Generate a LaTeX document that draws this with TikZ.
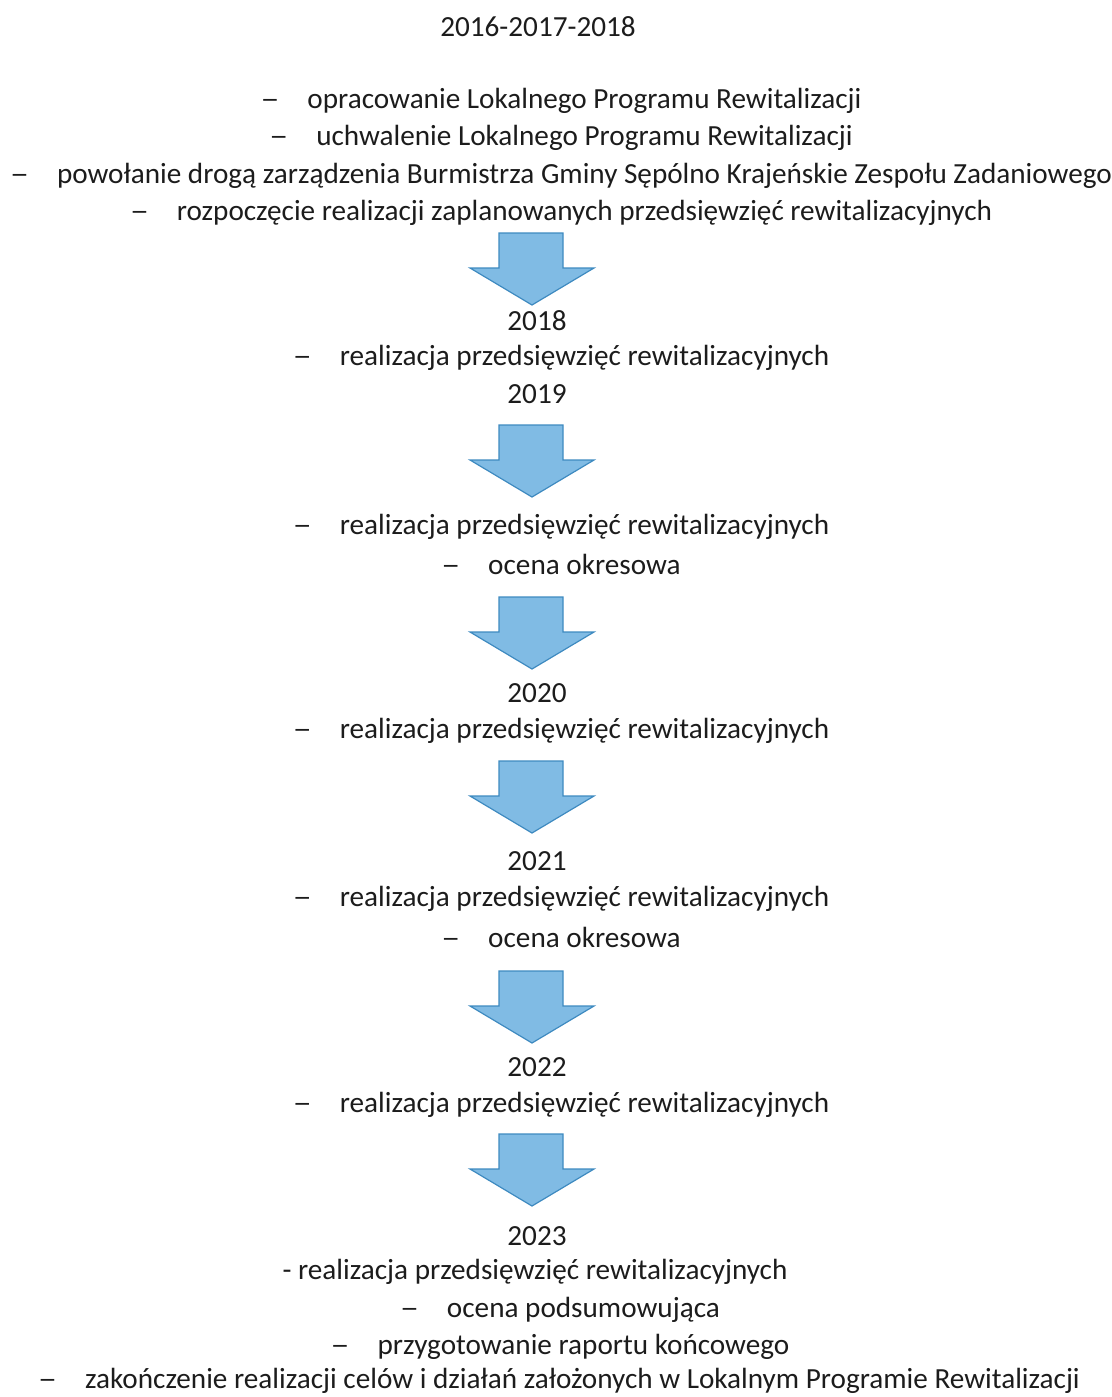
\documentclass[tikz,border=0pt]{standalone}
\usepackage{fontspec}
\setmainfont{Carlito}
\usepackage{tikz}
\definecolor{arrowfill}{RGB}{128,187,228}
\definecolor{arrowline}{RGB}{62,138,192}
\definecolor{textgray}{RGB}{28,28,28}
\newcommand{\dashline}[1]{\scalebox{1.3}[1]{–}\hspace{14pt}#1}
\tikzstyle{item} = [inner sep=0pt, text=textgray, font=\fontsize{14.6}{17}\selectfont, anchor=center]
\tikzstyle{year} = [inner sep=0pt, text=textgray, font=\fontsize{14.6}{17}\selectfont, anchor=center]
\tikzstyle{blockarrow} = [fill=arrowfill, draw=arrowline, line width=0.6pt, line join=miter]

\begin{document}
\begin{tikzpicture} [x=0.5pt, y=-0.5pt]
        \useasboundingbox (0,0) rectangle (1112,1397);
        \node (head) [year] at (538,27) {2016-2017-2018};
        \node (p1) [item] at (561,101) {\dashline{opracowanie Lokalnego Programu Rewitalizacji}};
        \node (p2) [item] at (561,138) {\dashline{uchwalenie Lokalnego Programu Rewitalizacji}};
        \node (p3) [item] at (561,176) {\dashline{powołanie drogą zarządzenia Burmistrza Gminy Sępólno Krajeńskie Zespołu Zadaniowego}};
        \node (p4) [item] at (561,213) {\dashline{rozpoczęcie realizacji zaplanowanych przedsięwzięć rewitalizacyjnych}};
        \node (y18) [year] at (537,321) {2018};
        \node (r18) [item] at (561,358) {\dashline{realizacja przedsięwzięć rewitalizacyjnych}};
        \node (y19) [year] at (537,394) {2019};
        \node (r19) [item] at (561,527) {\dashline{realizacja przedsięwzięć rewitalizacyjnych}};
        \node (o19) [item] at (561,564) {\dashline{ocena okresowa}};
        \node (y20) [year] at (537,693) {2020};
        \node (r20) [item] at (561,731) {\dashline{realizacja przedsięwzięć rewitalizacyjnych}};
        \node (y21) [year] at (537,861) {2021};
        \node (r21) [item] at (561,899) {\dashline{realizacja przedsięwzięć rewitalizacyjnych}};
        \node (o21) [item] at (561,937) {\dashline{ocena okresowa}};
        \node (y22) [year] at (537,1067) {2022};
        \node (r22) [item] at (561,1105) {\dashline{realizacja przedsięwzięć rewitalizacyjnych}};
        \node (y23) [year] at (537,1236) {2023};
        \node (r23) [item] at (535,1272) {- realizacja przedsięwzięć rewitalizacyjnych};
        \node (o23) [item] at (560,1310) {\dashline{ocena podsumowująca}};
        \node (raport) [item] at (560,1347) {\dashline{przygotowanie raportu końcowego}};
        \node (koniec) [item] at (559,1381) {\dashline{zakończenie realizacji celów i działań założonych w Lokalnym Programie Rewitalizacji}};

        \foreach \t in {233,425,597,761,971,1134}
                \draw[blockarrow] (499,\t) -- (563,\t) -- (563,\t+35) -- (594,\t+35) -- (532,\t+72) -- (470,\t+35) -- (499,\t+35) -- cycle;
    \end{tikzpicture}
\end{document}
